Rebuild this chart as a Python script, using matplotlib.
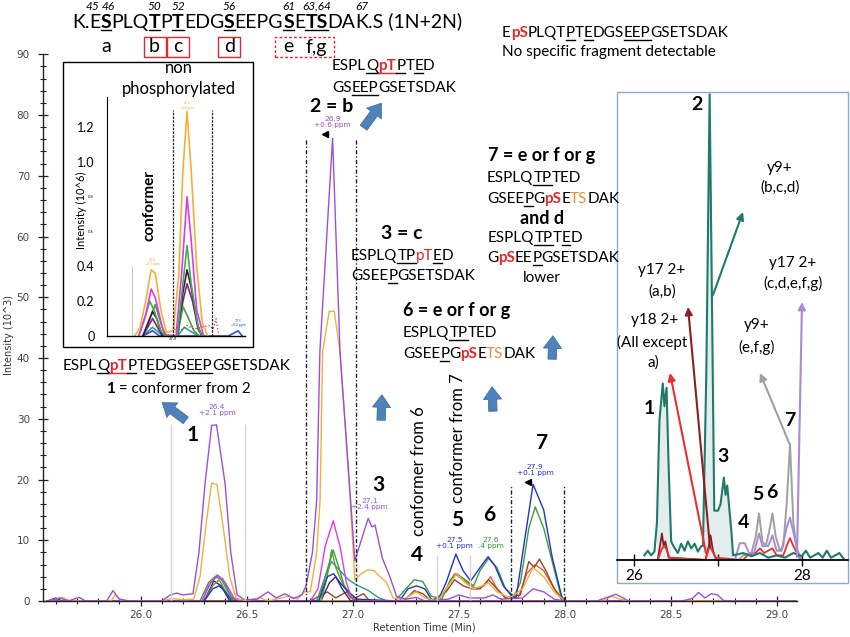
import matplotlib
matplotlib.use('Agg')
import matplotlib.pyplot as plt
from matplotlib.patches import FancyArrowPatch, Rectangle
from matplotlib.lines import Line2D
import numpy as np

# ---- main chromatogram traces (retention time, intensity 10^3) ----
purple = [(25.56,0),(25.62,0.5),(25.66,0),(25.71,0.6),(25.74,0),(25.84,0),(25.87,1.7),(25.9,0.3),(25.95,0),
          (26.1,0),(26.14,1.0),(26.17,1.3),(26.2,1.0),(26.247,1.2),(26.275,8),(26.304,19.4),(26.335,28.9),
          (26.358,29.0),(26.398,19.4),(26.425,8),(26.455,1),(26.49,0.2),(26.55,0.3),(26.6,1.5),(26.64,0.5),
          (26.68,1.2),(26.72,0.4),(26.76,1.0),(26.78,2.5),(26.81,8),(26.83,16.6),(26.845,41),(26.905,76.2),
          (26.94,41),(26.99,16.6),(27.01,6.6),(27.04,10),(27.073,13.6),(27.09,12.2),(27.105,12.5),(27.14,7),
          (27.175,4),(27.207,0.7),(27.25,0.3),(27.3,0.6),(27.34,0),(27.45,0.3),(27.5,1),(27.55,0.5),(27.62,0.5),
          (27.66,1),(27.7,0.3),(27.8,0.5),(27.85,2),(27.9,1.5),(27.95,0.3),(28.0,0),(28.15,0),(28.2,0.6),
          (28.24,1.1),(28.27,0.6),(28.3,0),(28.55,0),(28.6,0.4),(28.63,1.4),(28.66,0.5),(28.69,1.2),(28.72,1.0),
          (28.75,0),(29.09,0)]
orange = [(25.56,0),(25.6,0.3),(25.63,0.6),(25.67,0),(25.86,0),(25.88,1.0),(25.91,0),(26.1,0),(26.15,0.4),
          (26.2,0.2),(26.25,0.3),(26.28,4),(26.31,13),(26.335,19.4),(26.36,19.2),(26.39,12),(26.42,4),(26.45,0.5),
          (26.5,0),(26.56,0.6),(26.6,0),(26.7,0.8),(26.74,0.3),(26.77,1.5),(26.80,1.5),(26.83,8),(26.846,16.6),
          (26.858,41),(26.889,47.7),(26.913,47.7),(26.94,41),(26.988,16.6),(27.01,3.5),(27.04,4.5),(27.07,5.1),
          (27.1,5.0),(27.16,3),(27.19,0.5),(27.24,0.3),(27.3,1.5),(27.34,0.5),(27.4,0),(27.45,2.5),(27.49,4.5),
          (27.53,3),(27.57,2),(27.61,2.5),(27.64,3),(27.68,1.5),(27.74,0.5),(27.8,2),(27.85,5.5),(27.9,4),
          (27.95,1.5),(28.0,0),(28.18,0),(28.22,0.8),(28.26,0.3),(28.3,0),(29.09,0)]
magenta = [(25.56,0),(26.29,0),(26.32,2.5),(26.36,4.3),(26.4,3),(26.44,0.5),(26.47,0),(26.8,0),(26.836,2),
           (26.87,9),(26.908,13.2),(26.94,9),(26.97,3),(26.995,0.5),(27.03,0),(29.09,0)]
green = [(25.56,0),(26.28,0),(26.32,3),(26.35,4),(26.38,3.6),(26.42,1),(26.45,0),(26.83,0),(26.87,4),
         (26.908,8.4),(26.93,6),(26.96,2.5),(27.0,0.5),(27.03,0),(27.2,0),(27.25,2),(27.29,3.5),(27.33,3.2),
         (27.37,0.8),(27.42,0.3),(27.46,3.5),(27.49,4.5),(27.53,3.5),(27.57,2.5),(27.6,5),(27.64,7),(27.68,5.5),
         (27.72,2),(27.76,0.8),(27.79,3),(27.83,12),(27.86,15.5),(27.9,12),(27.94,6.5),(27.98,1),(28.0,0),(29.09,0)]
olive = [(25.56,0),(26.3,0),(26.34,2.5),(26.37,3.5),(26.41,1),(26.44,0),(26.85,0),(26.88,4),(26.9,8.4),
         (26.92,5.5),(26.95,3),(26.99,0.5),(27.02,0),(29.09,0)]
teal = [(25.56,0),(26.29,0),(26.33,3),(26.365,4.2),(26.39,3.5),(26.43,0.5),(26.46,0),(26.84,0),(26.87,4),
        (26.9,6.5),(26.94,5),(26.98,3.5),(27.02,2.6),(27.07,1.8),(27.12,0.6),(27.16,0),(29.09,0)]
blue = [(25.56,0),(25.6,0.5),(25.63,0),(26.3,0),(26.34,2),(26.37,2.5),(26.4,1.5),(26.43,0),(26.84,0),(26.88,4),
        (26.91,4.5),(26.94,3),(26.98,1.5),(27.02,0.3),(27.22,0),(27.26,2),(27.3,2.5),(27.34,2),(27.37,0.3),
        (27.4,0),(27.44,3),(27.486,7.7),(27.52,5),(27.556,3.3),(27.6,5.5),(27.638,7.3),(27.67,5.8),(27.71,2.5),
        (27.75,0.8),(27.77,0.5),(27.81,10),(27.85,19.2),(27.9,15),(27.94,7.2),(27.99,0),(29.09,0)]
darkpurple = [(25.56,0),(26.3,0),(26.345,3.3),(26.38,2.5),(26.42,0),(26.85,0),(26.89,3),(26.92,4),(26.95,2),
              (26.99,0),(29.09,0)]
brown = [(25.56,0),(26.8,0),(26.88,1.5),(26.92,0.5),(26.97,1.5),(27.0,0.3),(27.05,1.2),(27.08,0),(27.24,0),
         (27.29,1.7),(27.33,1.2),(27.37,0),(27.44,1.5),(27.48,3.5),(27.52,2.5),(27.56,2),(27.6,2),(27.64,3.5),
         (27.68,2),(27.72,0.5),(27.79,1),(27.83,6.5),(27.855,5.5),(27.88,6.9),(27.91,5),(27.95,2),(27.99,0),(29.09,0)]
redorange = [(25.56,0),(27.4,0),(27.44,2),(27.48,4.5),(27.52,3.5),(27.58,2),(27.62,2.5),(27.65,4),(27.68,2),
             (27.72,0.5),(27.78,0.5),(27.82,4.5),(27.86,6),(27.9,5),(27.95,2),(28.0,0),(29.09,0)]

# ---- right inset (relative intensity) ----
in_teal = [(26.12,1),(26.16,2),(26.2,1),(26.24,1.8),(26.27,8),(26.3,30),(26.34,37.9),(26.36,33),(26.385,37),
           (26.41,20),(26.44,4),(26.47,2.9),(26.52,1.5),(26.56,3.5),(26.6,2),(26.64,4),(26.68,2.5),(26.72,3.5),
           (26.76,1.8),(26.8,3),(26.82,3),(26.86,40),(26.9,100),(26.925,60),(26.955,10.6),(27.0,10.6),(27.03,12),
           (27.07,17.7),(27.09,14),(27.11,16),(27.14,10),(27.16,6),(27.18,1),(27.3,1.5),(27.4,0.8),(27.5,1.5),
           (27.6,0.5),(27.7,1),(27.8,0.5),(27.9,1.5),(28.0,0.8),(28.05,2),(28.1,0.5),(28.2,1.5),(28.25,0.5),
           (28.3,2),(28.35,0.5),(28.45,1.5),(28.5,0.3)]
in_gray = [(27.25,0),(27.3,1),(27.4,1.5),(27.45,5),(27.49,10),(27.53,4),(27.57,3),(27.61,6),(27.65,10),(27.69,5),
           (27.74,2),(27.78,3),(27.82,12),(27.86,24.9),(27.9,8),(27.95,1),(28.0,0)]
in_lpurple = [(27.2,0),(27.26,3.6),(27.32,3.6),(27.37,1.5),(27.43,1.5),(27.49,5.7),(27.53,3),(27.6,3),(27.65,5.3),
              (27.7,2),(27.76,2),(27.82,7),(27.86,9.1),(27.9,6),(27.95,2),(28.0,0)]
in_red = [(26.28,0),(26.32,2),(26.35,3),(26.38,2.5),(26.42,0.5),(26.85,0),(26.9,3),(26.93,2),(26.97,0.5),(27.3,0),
          (27.35,1),(27.45,1.5),(27.5,2.5),(27.55,1.5),(27.6,2),(27.65,2.5),(27.7,1),(27.78,1),(27.83,3.5),
          (27.86,4.7),(27.9,3),(27.97,0.5),(28.0,0)]
in_darkred = [(26.28,0),(26.33,5.7),(26.35,3),(26.37,4),(26.41,0.5),(26.85,0),(26.89,3),(26.91,5.3),(26.94,2),
              (26.98,0)]

# ---- left inset (non phosphorylated, 10^6) ----
li_orange = [(26.72,0),(26.76,0.05),(26.8,0.2),(26.84,0.38),(26.87,0.36),(26.91,0.15),(26.95,0.02),(27.0,0.03),
             (27.04,0.35),(27.07,0.95),(27.1,1.29),(27.13,0.95),(27.17,0.4),(27.21,0.08),(27.25,0)]
li_magenta = [(26.75,0),(26.8,0.12),(26.84,0.27),(26.87,0.22),(26.92,0.05),(26.95,0),(27.02,0),(27.06,0.35),
              (27.1,0.8),(27.13,0.55),(27.17,0.15),(27.22,0)]
li_green = [(26.75,0),(26.8,0.12),(26.83,0.2),(26.86,0.15),(26.91,0.03),(26.94,0),(27.03,0),(27.07,0.3),
            (27.1,0.52),(27.13,0.3),(27.18,0.05),(27.21,0)]
li_olive = [(26.78,0),(26.84,0.12),(26.87,0.18),(26.9,0.1),(26.94,0),(27.03,0),(27.07,0.17),(27.1,0.12),
            (27.15,0.03),(27.19,0)]
li_darkpurple = [(26.78,0),(26.82,0.08),(26.85,0.14),(26.88,0.1),(26.92,0),(27.03,0),(27.07,0.25),(27.1,0.38),
                 (27.13,0.28),(27.18,0.05),(27.21,0)]
li_purple = [(26.78,0),(26.85,0.1),(26.9,0.03),(26.93,0),(27.03,0),(27.07,0.2),(27.1,0.3),(27.14,0.2),
             (27.18,0.04),(27.21,0)]
li_teal = [(26.78,0),(26.85,0.05),(26.91,0.01),(27.03,0),(27.08,0.05),(27.12,0.03),(27.18,0)]
li_blue = [(26.78,0),(26.85,0.03),(26.9,0),(27.4,0),(27.47,0.03),(27.5,0)]
li_red = [(26.99,0),(27.02,0.05),(27.05,0.03),(27.1,0.06),(27.15,0.04),(27.2,0.05),(27.26,0.06),(27.29,0.04),
          (27.31,0.1),(27.33,0)]

main_ticks_x = [26.0, 26.5, 27.0, 27.5, 28.0, 28.5, 29.0]
main_ticks_y = list(range(0, 100, 10))
peak_labels = [(26.36, "26.4\n+2.1 ppm", '#9a4fe0'), (26.905, "26.9\n+0.6 ppm", '#9a4fe0'),
               (27.08, "27.1\n+2.4 ppm", '#9a4fe0'), (27.48, "27.5\n+0.1 ppm", '#2233cc'),
               (27.65, "27.6\n.4 ppm", '#2a9a2a'), (27.86, "27.9\n+0.1 ppm", '#2233cc')]
peak_label_y = [30.5, 77.8, 15.0, 8.5, 8.5, 20.5]

plt.rcParams['font.family'] = ['Lato', 'DejaVu Sans']
W, H = 850, 637
fig = plt.figure(figsize=(8.5, 6.37), dpi=100)
R = fig.canvas.get_renderer()
RED = '#e8262a'
TSORANGE = '#e8913a'
ARROWBLUE = '#4f81bd'


def P(x, y):
    # pixel (from top-left) -> figure fraction
    return (x / W, 1 - y / H)


def rich(x, y, parts, size=11, ha='left'):
    base = y + 0.34 * size * 100 / 72
    arts = []
    for s, st in parts:
        col = RED if 'r' in st else (TSORANGE if 'o' in st else 'black')
        t = fig.text(0, 0, s, fontsize=size, color=col, fontweight='bold' if 'b' in st else 'normal',
                     fontstyle='italic' if 'i' in st else 'normal', ha='left', va='baseline')
        arts.append((t, st, col))
    widths = [R.get_text_width_height_descent(t.get_text(), t.get_fontproperties(), ismath=False)[0]
              for t, _, _ in arts]
    x0 = x - sum(widths) / 2 if ha == 'center' else x
    spans = []
    for (t, st, col), w in zip(arts, widths):
        t.set_position(P(x0, base))
        if 'u' in st:
            fig.add_artist(Line2D([x0 / W, (x0 + w) / W], [1 - (base + 2.5) / H] * 2, color=col, lw=1.0))
        spans.append((x0, x0 + w))
        x0 += w
    return spans


def fat_arrow(x0, y0, x1, y1):
    fig.add_artist(FancyArrowPatch(P(x0, y0), P(x1, y1), transform=fig.transFigure,
                                   arrowstyle='simple,head_width=1.3,head_length=0.9,tail_width=0.6',
                                   mutation_scale=10, fc=ARROWBLUE, ec='#41719c', lw=0.6, zorder=5))


def thin_arrow(x0, y0, x1, y1, c):
    fig.add_artist(FancyArrowPatch(P(x0, y0), P(x1, y1), transform=fig.transFigure, arrowstyle='-|>',
                                   mutation_scale=11, color=c, lw=1.5, shrinkA=0, shrinkB=0, zorder=5))


def draw(ax, pts, c, **kw):
    t, v = zip(*pts)
    ax.plot(t, v, color=c, lw=kw.pop('lw', 1.0), **kw)


# ---------------- main axes ----------------
ax = fig.add_axes([43 / W, 36 / H, 754 / W, 546.7 / H])
ax.set_xlim(25.54, 29.094)
ax.set_ylim(0, 90)
for pts, c in [(redorange, '#e0603a'), (brown, '#a0402a'), (darkpurple, '#4a2060'), (teal, '#2a9a90'),
               (olive, '#6a9a30'), (green, '#3aa03a'), (blue, '#2233cc'), (magenta, '#e23be0'),
               (orange, '#f2b03a'), (purple, '#9a4fe0')]:
    draw(ax, pts, c)

ax.vlines([26.142, 26.492], 0, 29.2, color='#d4d4d4', lw=1.0)
ax.vlines([27.398, 27.555], 0, 7.6, color='#d4d4d4', lw=1.0)
ax.vlines([26.78, 27.015], 0, 76.2, color='#222222', lw=1.0, linestyles=[(0, (3, 1.5, 1, 1.5))])
ax.vlines([27.748, 27.996], 0, 19.1, color='#222222', lw=1.0, linestyles=[(0, (3, 1.5, 1, 1.5))])
ax.plot([26.87, 27.825], [76.8, 19.6], ls='none', marker='<', ms=4, color='black')
for (xp, s, c), yp in zip(peak_labels, peak_label_y):
    ax.text(xp, yp, s, color=c, fontsize=5.3, ha='center', va='bottom', family='DejaVu Sans', linespacing=1.0)

for side in ['top', 'right']:
    ax.spines[side].set_visible(False)
for side in ['left', 'bottom']:
    ax.spines[side].set_color('#222222')
    ax.spines[side].set_linewidth(1.0)
ax.set_xticks(main_ticks_x)
ax.set_xticklabels(['%.1f' % v for v in main_ticks_x])
ax.set_xticks(np.arange(25.6, 29.05, 0.1), minor=True)
ax.set_yticks(main_ticks_y)
ax.set_yticks(range(0, 91, 2), minor=True)
ax.tick_params(which='major', direction='inout', length=7, width=0.9, colors='#222222',
               labelsize=7.5, labelcolor='#444444', pad=6)
ax.tick_params(axis='x', which='major', pad=3)
ax.tick_params(which='minor', direction='inout', length=4, width=0.8, colors='#222222')
for lab in ax.get_xticklabels() + ax.get_yticklabels():
    lab.set_family('DejaVu Sans')
fig.text(*P(424, 628), 'Retention Time (Min)', fontsize=7, color='#333333', ha='center', va='center',
         family='DejaVu Sans')
fig.text(*P(9, 335), 'Intensity (10^3)', fontsize=7, color='#333333', ha='center', va='center',
         rotation=90, family='DejaVu Sans')

# ---------------- left inset ----------------
fig.add_artist(Rectangle(P(63, 347), 190 / W, 285 / H, transform=fig.transFigure, fc='white', ec='black',
                         lw=1.0, zorder=1))
ax2 = fig.add_axes([107 / W, (H - 336) / H, 138 / W, 239 / H], zorder=2)
ax2.patch.set_alpha(0)
ax2.set_xlim(26.52, 27.52)
ax2.set_ylim(0, 1.373)
for pts, c in [(li_teal, '#2aa0b0'), (li_blue, '#3050d0'), (li_purple, '#8a2080'), (li_olive, '#4a9a40'),
               (li_darkpurple, '#3a1a40'), (li_green, '#3ab050'), (li_magenta, '#e03ae0'),
               (li_orange, '#f2b03a')]:
    draw(ax2, pts, c, lw=1.2)
draw(ax2, li_red, '#e03030', lw=0.9, ls=':')
ax2.vlines([26.70], 0, 0.4, color='#c8c8c8', lw=0.8)
ax2.vlines([27.0, 27.28], 0, 1.3, color='#222222', lw=0.9, linestyles=[(0, (2, 1))])
ax2.text(26.85, 0.4, '26.8\n+2.1 ppm', fontsize=2.5, color='#f2b03a', ha='center', va='bottom')
ax2.text(27.1, 1.3, '27.1\n+0.8 ppm', fontsize=2.3, color='#f2b03a', ha='center', va='bottom')
ax2.text(27.47, 0.05, '27.5\n+0.2 ppm', fontsize=2.5, color='#3050d0', ha='center', va='bottom')
for side in ['top', 'right']:
    ax2.spines[side].set_visible(False)
ax2.spines['left'].set_linewidth(0.8)
ax2.spines['bottom'].set_linewidth(1.0)
ax2.set_yticks([0, 0.2, 0.4, 1.0, 1.2])
ax2.set_yticklabels(['0', '0.2', '0.4', '1.0', '1.2'])
ax2.tick_params(axis='y', length=0, pad=9, labelsize=9)
ax2.set_xticks([27.0])
ax2.set_xticklabels(['27.0'])
ax2.tick_params(axis='x', length=0, pad=1, labelsize=3)
for yv, s in [(0.8, '0.8'), (0.6, '0.6')]:
    ax2.text(26.4, yv, s, fontsize=3, ha='center', va='center')
fig.text(*P(81, 210), 'Intensity (10^6)', fontsize=8, rotation=90, ha='center', va='center')
fig.text(*P(150, 206), 'conformer', fontsize=11, fontweight='bold', rotation=90, ha='center', va='center')
fig.text(*P(179, 68), 'non', fontsize=12, ha='center', va='center')
fig.text(*P(179, 89), 'phosphorylated', fontsize=12, ha='center', va='center')

# ---------------- right inset ----------------
fig.add_artist(Rectangle(P(617, 583), 231 / W, 491 / H, transform=fig.transFigure, fc='white', ec='#8eaacb',
                         lw=1.0, zorder=1))
ax3 = fig.add_axes([617 / W, (H - 560) / H, 231 / W, 468 / H], zorder=2)
ax3.patch.set_alpha(0)
ax3.set_xlim(25.793, 28.553)
ax3.set_ylim(0, 100.5)
tt, tv = map(np.array, zip(*in_teal))
ax3.fill_between(tt, tv, where=((tt > 26.24) & (tt < 26.47)) | ((tt > 26.8) & (tt < 27.19)),
                 color='#e3eded', lw=0)
draw(ax3, in_darkred, '#8b2020', lw=1.3)
draw(ax3, in_red, '#e83030', lw=1.3)
draw(ax3, in_gray, '#a0a0a0', lw=1.4)
draw(ax3, in_lpurple, '#a98ad8', lw=1.4)
draw(ax3, in_teal, '#1f7a6a', lw=1.5)
for side in ['top', 'right', 'left']:
    ax3.spines[side].set_visible(False)
ax3.spines['bottom'].set_linewidth(1.3)
ax3.set_yticks([])
ax3.set_xticks([26, 27, 28])
ax3.set_xticklabels(['26', '', '28'])
ax3.tick_params(axis='x', direction='inout', length=9, width=1.0, labelsize=11, pad=2)

thin_arrow(713, 295, 743, 212, '#1f7a6a')
thin_arrow(710, 547, 688, 307, '#8b2020')
thin_arrow(706, 553, 670, 373, '#e83030')
thin_arrow(790, 445, 760, 373, '#a0a0a0')
thin_arrow(797, 557, 802, 302, '#a98ad8')
for x, y, s in [(780, 168, 'y9+'), (780, 188, '(b,c,d)'), (662, 270, 'y17 2+'), (662, 292, '(a,b)'),
                (655, 320, 'y18 2+'), (652, 342, '(All except'), (653, 363, 'a)'), (757, 325, 'y9+'),
                (757, 347, '(e,f,g)'), (793, 263, 'y17 2+'), (793, 283, '(c,d,e,f,g)')]:
    fig.text(*P(x, y), s, fontsize=11, ha='center', va='center')
for x, y, s in [(697, 105, '2'), (649, 408, '1'), (723, 457, '3'), (744, 522, '4'), (758, 495, '5'),
                (772, 492, '6'), (790, 420, '7')]:
    fig.text(*P(x, y), s, fontsize=14, fontweight='bold', ha='center', va='center')

# ---------------- sequence annotations ----------------
header = [("K.", ""), ("E", ""), ("S", "ub"), ("PLQ", ""), ("T", "ub"), ("P", ""), ("T", "ub"), ("EDG", ""),
          ("S", "ub"), ("EEPG", ""), ("S", "ub"), ("E", ""), ("TS", "ub"), ("DA", ""), ("K", ""),
          (".S (1N+2N)", "")]
hs = rich(72, 21, header, size=14)
mid = lambda i: (hs[i][0] + hs[i][1]) / 2
for i, s, dx in [(1, '45', -3), (2, '46', 2), (4, '50', 0), (6, '52', 0), (8, '56', 0), (10, '61', 0),
                 (12, '63,64', 0), (14, '67', 0)]:
    fig.text(*P(mid(i) + dx, 6), s, fontsize=8.5, fontstyle='italic', ha='center', va='center')
for i, s in [(2, 'a'), (4, 'b'), (6, 'c'), (8, 'd'), (10, 'e'), (12, 'f,g')]:
    fig.text(*P(mid(i), 47), s, fontsize=14, ha='center', va='center')
for i in [4, 6, 8]:
    fig.add_artist(Rectangle(P(mid(i) - 11, 57), 22 / W, 20 / H, transform=fig.transFigure, fill=False,
                             ec=RED, lw=1.0))
fig.add_artist(Rectangle(P(mid(10) - 14, 57), (mid(12) - mid(10) + 32) / W, 20 / H, transform=fig.transFigure,
                         fill=False, ec=RED, lw=1.0, ls=(0, (2, 1.5))))

rich(502, 32, [("E", ""), ("pS", "rb"), ("PLQT", ""), ("P", "u"), ("T", ""), ("E", "u"), ("DGS", ""),
               ("EEP", "u"), ("GSETSDAK", "")], size=11)
rich(502, 51, [("No specific fragment detectable", "")], size=11)

rich(63, 365, [("ESPL", ""), ("Q", "u"), ("pT", "rbu"), ("P", "u"), ("T", ""), ("E", "u"), ("DGS", ""),
               ("EEP", "u"), ("GSETSDAK", "")], size=11)
rich(106, 388, [("1", "b"), (" = conformer from 2", "")], size=11)

rich(332, 65, [("ESPL", ""), ("Q", "u"), ("pT", "rbu"), ("P", "u"), ("T", ""), ("E", "u"), ("D", "")], size=11)
rich(332, 87, [("GS", ""), ("EEP", "u"), ("GSETSDAK", "")], size=11)
rich(332, 105, [("2 = b", "b")], size=14, ha='center')

rich(402, 232, [("3 = c", "b")], size=14, ha='center')
rich(351, 255, [("ESPLQ", ""), ("TP", "u"), ("pT", "r"), ("E", "u"), ("D", "")], size=11)
rich(351, 275, [("GSEE", ""), ("P", "u"), ("GSETSDAK", "")], size=11)

rich(488, 155, [("7 = e or f or g", "b")], size=13)
rich(487, 177, [("ESPLQ", ""), ("TP", "u"), ("TED", "")], size=11)
rich(487, 198, [("GSEE", ""), ("P", "u"), ("G", ""), ("pS", "rb"), ("E", ""), ("TS", "o"), ("DAK", "")], size=11)
rich(542, 218, [("and d", "b")], size=13, ha='center')
rich(488, 237, [("ESPLQ", ""), ("TP", "u"), ("T", ""), ("E", "u"), ("D", "")], size=11)
rich(487, 257, [("G", ""), ("pS", "rb"), ("EE", ""), ("P", "u"), ("GSETSDAK", "")], size=11)
rich(542, 277, [("lower", "")], size=11, ha='center')

rich(403, 310, [("6 = e or f or g", "b")], size=13)
rich(403, 332, [("ESPLQ", ""), ("TP", "u"), ("TED", "")], size=11)
rich(403, 353, [("GSEE", ""), ("P", "u"), ("G", ""), ("pS", "rb"), ("E", ""), ("TS", "o"), ("DAK", "")], size=11)

fig.text(*P(419, 471), 'conformer from 6', fontsize=12, rotation=90, ha='center', va='center')
fig.text(*P(458, 438), 'conformer from 7', fontsize=12, rotation=90, ha='center', va='center')
for x, y, s in [(193, 435, '1'), (378, 485, '3'), (417, 555, '4'), (457, 520, '5'), (489, 515, '6'),
                (542, 443, '7')]:
    fig.text(*P(x, y), s, fontsize=15, fontweight='bold', ha='center', va='center')

fat_arrow(188, 422, 160, 401)
fat_arrow(362, 130, 383, 101)
fat_arrow(381, 423, 382, 392)
fat_arrow(493, 414, 492, 384)
fat_arrow(552, 362, 553, 333)

fig.savefig('out.png', dpi=100)
